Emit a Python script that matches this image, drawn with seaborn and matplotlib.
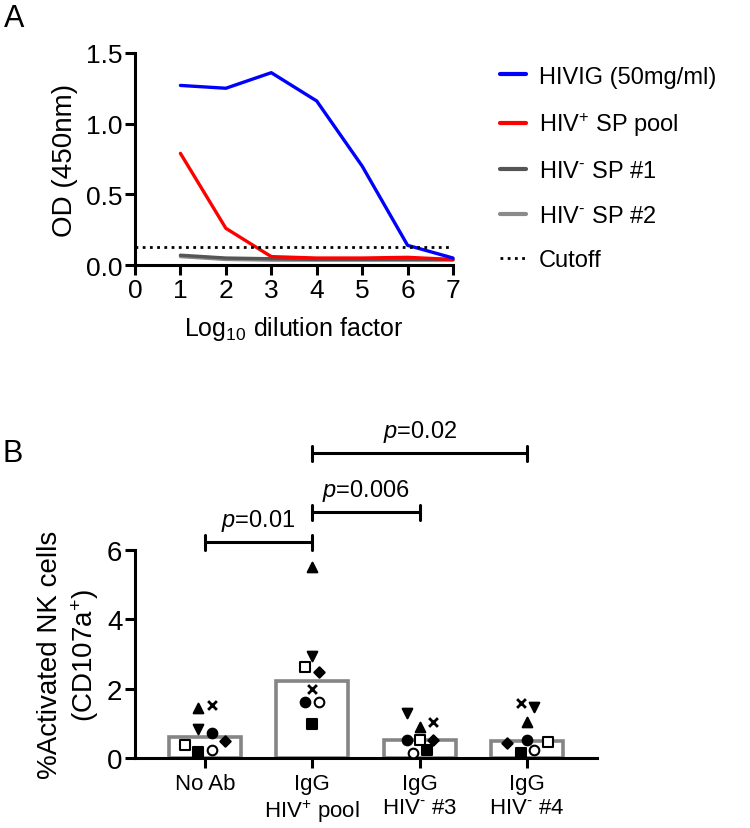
import matplotlib
matplotlib.use("Agg")
import matplotlib.pyplot as plt
import seaborn as sns
import numpy as np
import pandas as pd
from matplotlib.lines import Line2D

# Panel A: ELISA titration
dilution = [1, 2, 3, 4, 5, 6, 7]
hivig = [1.27, 1.25, 1.36, 1.16, 0.70, 0.14, 0.05]
hiv_pos_pool = [0.79, 0.26, 0.06, 0.05, 0.05, 0.055, 0.04]
hiv_neg_sp1 = [0.07, 0.05, 0.045, 0.04, 0.04, 0.04, 0.04]
hiv_neg_sp2 = [0.06, 0.04, 0.035, 0.035, 0.035, 0.035, 0.035]
cutoff = 0.13
series_names = ["HIVIG (50mg/ml)", "HIV$^{+}$ SP pool", r"HIV$^{\text{-}}$ SP #1",
                r"HIV$^{\text{-}}$ SP #2"]
series_colors = ["#0000ff", "#ff0000", "#555555", "#8a8a8a"]

# Panel B: NK activation, one value per donor (marker) per condition
groups = ["No Ab", "IgG\nHIV$^{+}$ pool", "IgG\nHIV$^{\\text{-}}$ #3", "IgG\nHIV$^{\\text{-}}$ #4"]
donors = ["tri_up", "tri_down", "cross", "circle", "open_circle", "square", "open_square", "diamond"]
no_ab = [1.44, 0.84, 1.53, 0.72, 0.23, 0.17, 0.37, 0.49]
igg_pos_pool = [5.50, 2.94, 1.99, 1.61, 1.61, 0.98, 2.62, 2.48]
igg_neg_3 = [0.89, 1.30, 1.04, 0.52, 0.14, 0.23, 0.52, 0.52]
igg_neg_4 = [1.04, 1.47, 1.58, 0.52, 0.23, 0.14, 0.46, 0.43]
p_labels = ["0.01", "0.006", "0.02"]
p_pairs = [(0, 1), (1, 2), (1, 3)]

# layout only: horizontal scatter offsets (in category widths) as drawn
offsets = [
    [-0.06, -0.06, 0.065, 0.065, 0.065, -0.06, -0.18, 0.19],
    [0.0, 0.0, 0.0, -0.065, 0.065, 0.0, -0.065, 0.065],
    [0.0, -0.12, 0.12, -0.12, -0.06, 0.065, 0.0, 0.12],
    [0.0, 0.06, -0.06, 0.0, 0.06, -0.06, 0.19, -0.19],
]
marker_style = {
    "tri_up": dict(marker="^", fc="black"),
    "tri_down": dict(marker="v", fc="black"),
    "cross": dict(marker="x", fc="black"),
    "circle": dict(marker="o", fc="black"),
    "open_circle": dict(marker="o", fc="white"),
    "square": dict(marker="s", fc="black"),
    "open_square": dict(marker="s", fc="white"),
    "diamond": dict(marker="D", fc="black"),
}

sns.set_style("ticks")
plt.rcParams["font.family"] = ["Liberation Sans", "DejaVu Sans"]
plt.rcParams["mathtext.fontset"] = "custom"
plt.rcParams["mathtext.rm"] = "Liberation Sans"
plt.rcParams["mathtext.it"] = "Liberation Sans:italic"
plt.rcParams["mathtext.bf"] = "Liberation Sans:bold"
plt.rcParams["axes.linewidth"] = 2.2
plt.rcParams["xtick.major.width"] = 2.2
plt.rcParams["ytick.major.width"] = 2.2
plt.rcParams["xtick.major.size"] = 7
plt.rcParams["ytick.major.size"] = 7
plt.rcParams["axes.edgecolor"] = "black"
plt.rcParams["text.color"] = "black"
plt.rcParams["axes.labelcolor"] = "black"
plt.rcParams["xtick.color"] = "black"
plt.rcParams["ytick.color"] = "black"

fig = plt.figure(figsize=(7.5, 8.29), dpi=100)

# ---- Panel A
axA = fig.add_axes([0.18, 0.679, 0.424, 0.256])
dfA = pd.DataFrame({
    "x": dilution * 4,
    "od": hivig + hiv_pos_pool + hiv_neg_sp1 + hiv_neg_sp2,
    "serum": np.repeat(series_names, len(dilution)),
})
# draw light-to-dark so gray lines sit under the coloured ones
for name, col in reversed(list(zip(series_names, series_colors))):
    sns.lineplot(data=dfA[dfA.serum == name], x="x", y="od", color=col,
                 linewidth=2.4, ax=axA, legend=False, clip_on=False)
axA.hlines(cutoff, 0, 7, colors="black", linestyles=(0, (1, 1.6)), linewidth=2.0)
axA.set_xlim(0, 7)
axA.set_ylim(0, 1.5)
axA.set_xticks(range(0, 8))
axA.set_yticks([0.0, 0.5, 1.0, 1.5])
axA.set_yticklabels(["0.0", "0.5", "1.0", "1.5"])
axA.tick_params(labelsize=19, pad=2)
axA.set_xlabel("Log$_{10}$ dilution factor", fontsize=18, labelpad=9)
axA.set_ylabel("OD (450nm)", fontsize=20, labelpad=6)
sns.despine(ax=axA)

handles = [Line2D([], [], color=c, linewidth=3) for c in series_colors]
handles.append(Line2D([], [], color="black", linewidth=2, linestyle=(0, (1, 1.6))))
axA.legend(handles, series_names + ["Cutoff"], loc="upper left",
           bbox_to_anchor=(1.08, 1.04), frameon=False, fontsize=17,
           handlelength=1.1, handletextpad=0.55, labelspacing=0.95)

fig.text(0.005, 0.995, "A", fontsize=22, va="top", ha="left")

# ---- Panel B
axB = fig.add_axes([0.18, 0.0844, 0.616, 0.2509])
vals = [no_ab, igg_pos_pool, igg_neg_3, igg_neg_4]
dfB = pd.DataFrame({
    "group": np.repeat(groups, len(donors)),
    "donor": donors * len(groups),
    "value": np.concatenate(vals),
})
sns.barplot(data=dfB, x="group", y="value", order=groups, estimator=np.median,
            errorbar=None, color="white", edgecolor="#858585", linewidth=2.6,
            width=0.67, ax=axB)

for gi, gvals in enumerate(vals):
    for di, d in enumerate(donors):
        st = marker_style[d]
        xpos = gi + offsets[gi][di]
        if st["marker"] == "x":
            axB.scatter(xpos, gvals[di], marker="x", s=40, color="black",
                        linewidths=2.0, zorder=4)
        else:
            size = 28 if st["marker"] == "D" else 48
            axB.scatter(xpos, gvals[di], marker=st["marker"], s=size,
                        facecolor=st["fc"], edgecolor="black", linewidths=1.5, zorder=4)

axB.set_xlim(-0.65, 3.65)
axB.set_ylim(0, 6)
axB.set_yticks([0, 2, 4, 6])
axB.tick_params(axis="y", labelsize=20, pad=2)
axB.tick_params(axis="x", labelsize=16, pad=4)
for t in axB.get_xticklabels():
    t.set_linespacing(1.15)
axB.set_xlabel("")
axB.set_ylabel("%Activated NK cells\n(CD107a$^{+}$)", fontsize=20, labelpad=4,
               linespacing=1.3)
sns.despine(ax=axB)

bracket_y = [6.22, 7.09, 8.79]
for (a, b), y, lab in zip(p_pairs, bracket_y, p_labels):
    axB.plot([a, b], [y, y], color="black", linewidth=2.2, clip_on=False)
    for xe in (a, b):
        axB.plot([xe, xe], [y - 0.22, y + 0.22], color="black", linewidth=2.2,
                 clip_on=False)
    axB.annotate("$p$=" + lab, xy=((a + b) / 2, y), xytext=(0, 7),
                 textcoords="offset points", ha="center", va="bottom",
                 fontsize=17, annotation_clip=False)

fig.text(0.003, 0.452, "B", fontsize=22, va="center", ha="left")

fig.savefig("out.png", dpi=100)
